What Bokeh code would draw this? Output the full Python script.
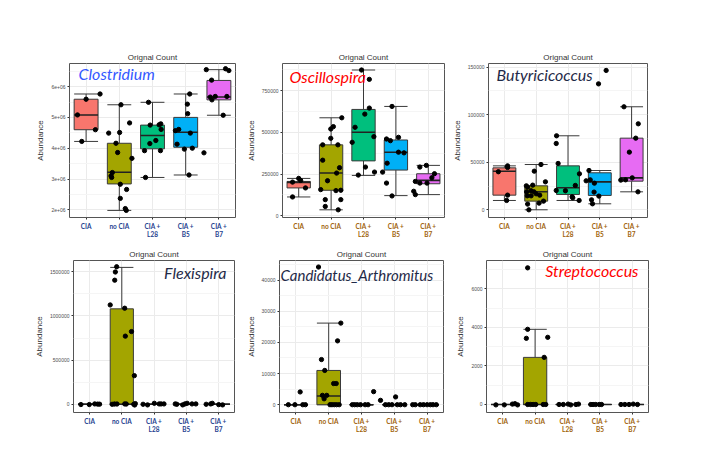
from bokeh.plotting import figure
from bokeh.layouts import column, row
from bokeh.models import FactorRange, Range1d, FixedTicker, Label
from bokeh.embed import file_html
from bokeh.resources import INLINE

# ---------------- data ----------------
GROUPS = ["CIA", "no CIA", "CIA +\nL28", "CIA +\nB5", "CIA +\nB7"]
FILLS = ["#F8766D", "#A3A500", "#00BF7D", "#00B0F6", "#E76BF3"]

# Clostridium
CLOS_LOW = [4.22e6, 1.98e6, 3.05e6, 3.13e6, 5.07e6]
CLOS_Q1 = [4.60e6, 2.84e6, 3.98e6, 4.03e6, 5.57e6]
CLOS_MED = [5.08e6, 3.22e6, 4.41e6, 4.52e6, 5.66e6]
CLOS_Q3 = [5.59e6, 4.16e6, 4.75e6, 5.00e6, 6.20e6]
CLOS_HIGH = [5.76e6, 5.41e6, 5.49e6, 5.76e6, 6.55e6]
CLOS_PTS = [
    [5.76e6, 5.59e6, 5.08e6, 4.60e6, 4.22e6],
    [5.41e6, 4.82e6, 4.49e6, 4.51e6, 4.16e6, 3.86e6, 3.67e6, 3.21e6, 3.10e6, 3.05e6, 2.83e6, 2.66e6, 2.37e6, 2.04e6, 1.98e6],
    [5.49e6, 4.75e6, 4.76e6, 4.79e6, 4.61e6, 4.25e6, 4.15e6, 3.92e6, 3.92e6, 3.05e6],
    [5.76e6, 5.43e6, 5.12e6, 4.61e6, 4.57e6, 4.49e6, 4.13e6, 3.97e6, 4.00e6, 3.13e6],
    [6.55e6, 6.58e6, 6.52e6, 6.21e6, 5.68e6, 5.66e6, 5.68e6, 5.57e6, 5.07e6, 3.85e6],
]
CLOS_JIT = [
    [0.42, 0.0, -0.26, 0.28, -0.13],
    [0.05, 0.31, -0.32, 0.01, -0.10, -0.05, 0.38, -0.21, -0.25, -0.23, 0.03, 0.22, 0.03, 0.18, 0.21],
    [-0.12, -0.07, 0.20, 0.25, 0.26, 0.10, -0.08, -0.24, 0.24, -0.21],
    [0.12, 0.05, 0.06, -0.21, -0.31, 0.14, -0.26, -0.04, 0.20, 0.10],
    [-0.38, 0.20, 0.30, -0.22, -0.11, -0.26, 0.24, -0.21, 0.13, -0.45],
]
CLOS_TICKS = [2000000, 3000000, 4000000, 5000000, 6000000]
CLOS_TICK_LABELS = ["2e+06", "3e+06", "4e+06", "5e+06", "6e+06"]

# Oscillospira
OSC_LOW = [113000, 36000, 242000, 121000, 127000]
OSC_Q1 = [167000, 153000, 329000, 274000, 192000]
OSC_MED = [200000, 256000, 500000, 381000, 212000]
OSC_Q3 = [206000, 425000, 637000, 454000, 252000]
OSC_HIGH = [224000, 587000, 873000, 655000, 302000]
OSC_PTS = [
    [224000, 212000, 202000, 167000, 113000],
    [587000, 534000, 520000, 464000, 425000, 425000, 333000, 288000, 256000, 210000, 157000, 151000, 153000, 97000, 97000, 56000, 36000],
    [873000, 817000, 645000, 609000, 530000, 440000, 474000, 292000, 262000, 244000],
    [655000, 470000, 460000, 450000, 381000, 377000, 315000, 262000, 196000, 119000],
    [302000, 292000, 252000, 228000, 206000, 196000, 196000, 147000, 127000],
]
OSC_JIT = [
    [0.0, 0.06, -0.19, 0.21, -0.19],
    [0.33, 0.07, -0.01, -0.01, -0.26, 0.21, -0.26, 0.26, 0.17, -0.11, -0.32, 0.15, 0.30, -0.18, 0.30, -0.18, 0.22],
    [-0.06, 0.18, 0.18, 0.04, -0.26, -0.35, 0.32, 0.06, 0.34, -0.16],
    [-0.12, 0.08, -0.29, -0.17, 0.08, 0.25, -0.27, -0.41, -0.29, -0.12],
    [-0.06, -0.26, 0.19, 0.11, -0.40, -0.26, -0.04, -0.45, -0.40],
]
OSC_TICKS = [0, 250000, 500000, 750000]
OSC_TICK_LABELS = ["0", "250000", "500000", "750000"]

# Butyricicoccus
BUT_LOW = [9800, 0, 9800, 6300, 18900]
BUT_Q1 = [15400, 9100, 16100, 15100, 30100]
BUT_MED = [40600, 18900, 23100, 29400, 33600]
BUT_Q3 = [44100, 25200, 46200, 38900, 75300]
BUT_HIGH = [46200, 47600, 77800, 41300, 108300]
BUT_PTS = [
    [46200, 44500, 40000, 15400, 9800],
    [47600, 40600, 29400, 25200, 23800, 25900, 20000, 18900, 18900, 16800, 15400, 14700, 14700, 9100, 7000, 6000, 0],
    [77800, 69700, 48700, 20300, 20000, 37800, 25600, 13700, 12600, 9800],
    [132400, 146500, 41300, 30500, 31500, 28000, 18600, 14400, 10500, 6300],
    [108300, 90400, 75300, 60600, 33600, 31200, 31500, 18900],
]
BUT_JIT = [
    [0.10, 0.10, -0.19, 0.10, 0.07],
    [0.15, -0.06, 0.29, -0.31, -0.27, -0.11, -0.16, -0.07, -0.30, 0.0, 0.11, -0.28, -0.16, 0.23, 0.09, -0.27, -0.23],
    [-0.36, -0.37, -0.31, -0.37, -0.08, 0.36, 0.23, 0.13, 0.15, 0.35],
    [-0.04, 0.20, -0.34, -0.43, -0.30, -0.17, -0.18, -0.03, -0.26, -0.23],
    [-0.24, 0.21, 0.13, -0.07, 0.02, -0.34, -0.19, 0.20],
]
BUT_TICKS = [0, 50000, 100000, 150000]
BUT_TICK_LABELS = ["0", "50000", "100000", "150000"]

# Flexispira
FLEX_LOW = [0, 0, 0, 0, 0]
FLEX_Q1 = [0, 0, 0, 0, 0]
FLEX_MED = [0, 0, 0, 0, 0]
FLEX_Q3 = [0, 1080000, 0, 0, 0]
FLEX_HIGH = [0, 1549000, 0, 0, 0]
FLEX_PTS = [
    [-3000, -3000, 4000, 2000, 1000],
    [1556000, 1497000, 1404000, 1124000, 1087000, 771000, 823000, 324000, 0, 3000, 3000, 4000, 3000, 0, -8000, 8000],
    [0, -7000, 11000, 4000, 4000, 4000],
    [4000, 0, -7000, 4000, 11000, 4000, 4000],
    [0, 4000, 11000, -4000, -7000],
]
FLEX_JIT = [
    [-0.27, -0.01, 0.16, 0.25, 0.31],
    [-0.16, -0.20, -0.22, -0.36, 0.09, 0.11, 0.30, 0.39, -0.30, -0.23, -0.15, 0.09, 0.14, 0.37, 0.40, 0.42],
    [-0.34, -0.20, 0.01, 0.16, 0.22, 0.31],
    [-0.34, -0.29, -0.11, -0.04, 0.03, 0.18, 0.30],
    [-0.38, -0.24, -0.19, 0.01, 0.13],
]
FLEX_TICKS = [0, 500000, 1000000, 1500000]
FLEX_TICK_LABELS = ["0", "500000", "1000000", "1500000"]

# Candidatus_Arthromitus
CAND_LOW = [0, 0, 0, 0, 0]
CAND_Q1 = [0, 0, 0, 0, 0]
CAND_MED = [0, 2800, 0, 0, 0]
CAND_Q3 = [0, 11000, 0, 0, 0]
CAND_HIGH = [0, 26200, 0, 0, 0]
CAND_PTS = [
    [0, 0, 4100, 0, 0],
    [44200, 26200, 20500, 14500, 11000, 6800, 6800, 3000, 3000, 1900, 0, 0, 0, 0, 0],
    [0, 0, 0, 0, 0, 0, 4200],
    [1400, 0, 0, 0, 2500, 0, 0, 0],
    [0, 0, 0, 0, 0, 0, 0, 0],
]
CAND_JIT = [
    [-0.23, -0.03, 0.13, 0.21, 0.29],
    [-0.31, 0.37, 0.27, -0.22, -0.12, 0.15, 0.23, -0.19, -0.06, -0.14, 0.04, 0.10, 0.17, 0.24, 0.32],
    [-0.28, -0.21, -0.13, -0.03, 0.11, 0.20, 0.37],
    [-0.42, -0.27, -0.17, -0.07, 0.04, 0.09, 0.19, 0.32],
    [-0.44, -0.36, -0.21, -0.11, 0.0, 0.10, 0.18, 0.28],
]
CAND_TICKS = [0, 10000, 20000, 30000, 40000]
CAND_TICK_LABELS = ["0", "10000", "20000", "30000", "40000"]

# Streptococcus
STR_LOW = [0, 0, 0, 0, 0]
STR_Q1 = [0, 0, 0, 0, 0]
STR_MED = [0, 0, 0, 0, 0]
STR_Q3 = [0, 2446, 0, 0, 0]
STR_HIGH = [0, 3903, 0, 0, 0]
STR_PTS = [
    [-20, -20, 20, 40, -20],
    [7095, 3903, 3435, 3487, 2446, 0, 0, 0, 0, 0, 0],
    [0, 0, 20, -20, 0, 20],
    [0, 0, 0, 0, 0],
    [0, 0, 0, 20, 0],
]
STR_JIT = [
    [-0.21, 0.05, 0.30, 0.38, 0.46],
    [-0.23, -0.23, -0.27, 0.39, 0.28, -0.23, -0.14, -0.06, 0.02, 0.25, 0.33],
    [-0.26, -0.13, 0.02, 0.10, 0.26, 0.34],
    [-0.28, -0.21, -0.13, -0.02, 0.05],
    [-0.35, -0.23, -0.10, 0.03, 0.16],
]
STR_TICKS = [0, 2000, 4000, 6000]
STR_TICK_LABELS = ["0", "2000", "4000", "6000"]

# ---------------- drawing ----------------
BOX_W = 0.72
EDGE = "#3a3a3a"
NAVY = "#1F3F8F"
ORANGE = "#A0620A"


def make_panel(name, name_color, name_align, name_pos, name_size,
               low, q1, med, q3, high, pts, jit,
               ticks, tick_labels, yrange, width, height, borders, xlab_color):
    bl, br, bt, bb = borders
    p = figure(width=width, height=height, output_backend="svg", toolbar_location=None,
               x_range=FactorRange(factors=GROUPS), y_range=Range1d(*yrange),
               min_border_left=bl, min_border_right=br, min_border_top=bt, min_border_bottom=bb,
               title="Orignal Count")
    p.background_fill_color = "white"
    p.border_fill_color = "white"
    p.outline_line_color = "#555555"
    p.outline_line_width = 1
    p.title.align = "center"
    p.title.text_font = "Liberation Sans"
    p.title.text_font_size = "8px"
    p.title.text_font_style = "normal"
    p.title.text_color = "#333333"
    p.title.standoff = 3

    step = ticks[1] - ticks[0]
    minors = [t + step / 2 for t in [ticks[0] - step] + ticks]
    minors = [m for m in minors if yrange[0] < m < yrange[1]]
    p.yaxis.ticker = FixedTicker(ticks=ticks, minor_ticks=minors)
    p.yaxis.major_label_overrides = {t: s for t, s in zip(ticks, tick_labels)}
    p.yaxis.axis_label = "Abundance"
    p.yaxis.axis_label_text_font = "Liberation Sans"
    p.yaxis.axis_label_text_font_size = "8px"
    p.yaxis.axis_label_text_font_style = "normal"
    p.yaxis.axis_label_text_color = "#333333"
    p.yaxis.axis_label_standoff = 3
    p.yaxis.major_label_text_font = "Liberation Sans"
    p.yaxis.major_label_text_font_size = "5px"
    p.yaxis.major_label_text_color = "#4d4d4d"
    p.yaxis.major_label_standoff = 2

    p.xaxis.major_label_text_font = "Lato"
    p.xaxis.major_label_text_font_style = "bold"
    p.xaxis.major_label_text_font_size = "6.5px"
    p.xaxis.major_label_text_color = xlab_color
    p.xaxis.major_label_standoff = 3

    for ax in (p.xaxis, p.yaxis):
        ax.axis_line_color = None
        ax.major_tick_out = 2
        ax.major_tick_in = 0
        ax.minor_tick_out = 0
        ax.minor_tick_in = 0
        ax.major_tick_line_color = "#333333"

    p.xgrid.grid_line_color = "#ebebeb"
    p.ygrid.grid_line_color = "#ebebeb"
    p.ygrid.minor_grid_line_color = "#f5f5f5"

    xs = [i + 0.5 for i in range(len(GROUPS))]
    # whiskers with caps
    p.segment(x0=xs, y0=q3, x1=xs, y1=high, line_color=EDGE, line_width=1)
    p.segment(x0=xs, y0=q1, x1=xs, y1=low, line_color=EDGE, line_width=1)
    p.segment(x0=[x - BOX_W / 2 for x in xs], y0=high, x1=[x + BOX_W / 2 for x in xs], y1=high,
              line_color=EDGE, line_width=1)
    p.segment(x0=[x - BOX_W / 2 for x in xs], y0=low, x1=[x + BOX_W / 2 for x in xs], y1=low,
              line_color=EDGE, line_width=1)
    # boxes
    p.vbar(x=xs, width=BOX_W, bottom=q1, top=q3, fill_color=FILLS, line_color=EDGE, line_width=1)
    p.segment(x0=[x - BOX_W / 2 for x in xs], y0=med, x1=[x + BOX_W / 2 for x in xs], y1=med,
              line_color="#222222", line_width=1.6)
    # jittered points
    px, py = [], []
    for i, (vals, js) in enumerate(zip(pts, jit)):
        for v, j in zip(vals, js):
            px.append(xs[i] + j)
            py.append(v)
    p.scatter(px, py, size=4.3, color="black")

    dx, dy = name_pos
    if name_align == "left":
        lab = Label(x=0, y=yrange[1], x_offset=dx, y_offset=dy, text=name,
                    text_align="left", text_baseline="middle")
    else:
        lab = Label(x=len(GROUPS), y=yrange[1], x_offset=dx, y_offset=dy, text=name,
                    text_align="right", text_baseline="middle")
    lab.text_font = "Lato"
    lab.text_font_style = "italic"
    lab.text_font_size = name_size
    lab.text_color = name_color
    p.add_layout(lab)
    return p


p1 = make_panel("Clostridium", "#3358FF", "left", (9, -10), "16px",
                CLOS_LOW, CLOS_Q1, CLOS_MED, CLOS_Q3, CLOS_HIGH,
                CLOS_PTS, CLOS_JIT, CLOS_TICKS, CLOS_TICK_LABELS, (1.75e6, 6.75e6),
                243, 245, (69, 8, 63, 28), NAVY)
p2 = make_panel("Oscillospira", "#FF0000", "left", (7, -13), "16px",
                OSC_LOW, OSC_Q1, OSC_MED, OSC_Q3, OSC_HIGH,
                OSC_PTS, OSC_JIT, OSC_TICKS, OSC_TICK_LABELS, (-10000, 912000),
                206, 245, (37, 5, 63, 28), ORANGE)
p3 = make_panel("Butyricicoccus", "#1F2A48", "left", (8, -11), "16px",
                BUT_LOW, BUT_Q1, BUT_MED, BUT_Q3, BUT_HIGH,
                BUT_PTS, BUT_JIT, BUT_TICKS, BUT_TICK_LABELS, (-8100, 153800),
                218, 245, (36, 20, 63, 28), ORANGE)
p4 = make_panel("Flexispira", "#1F2A48", "right", (-8, -12), "16px",
                FLEX_LOW, FLEX_Q1, FLEX_MED, FLEX_Q3, FLEX_HIGH,
                FLEX_PTS, FLEX_JIT, FLEX_TICKS, FLEX_TICK_LABELS, (-93000, 1627000),
                243, 205, (73, 9, 13, 38), NAVY)
p5 = make_panel("Candidatus_Arthromitus", "#1F2A48", "left", (1, -14), "15px",
                CAND_LOW, CAND_Q1, CAND_MED, CAND_Q3, CAND_HIGH,
                CAND_PTS, CAND_JIT, CAND_TICKS, CAND_TICK_LABELS, (-2500, 46300),
                206, 205, (35, 6, 13, 38), ORANGE)
p6 = make_panel("Streptococcus", "#FF0000", "right", (-10, -10), "16px",
                STR_LOW, STR_Q1, STR_MED, STR_Q3, STR_HIGH,
                STR_PTS, STR_JIT, STR_TICKS, STR_TICK_LABELS, (-416, 7476),
                219, 205, (37, 20, 15, 38), ORANGE)

layout = column(row(p1, p2, p3), row(p4, p5, p6))
open("out.html", "w").write(file_html(layout, INLINE))
